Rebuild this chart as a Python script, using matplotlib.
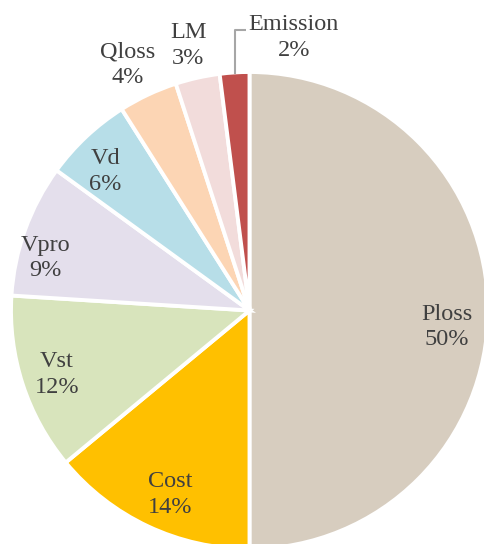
import numpy as np
import matplotlib.pyplot as plt

plt.rcParams["font.family"] = "serif"
plt.rcParams["font.serif"] = ["Liberation Serif", "Times New Roman", "DejaVu Serif"]

# objective weights, clockwise from 12 o'clock
labels = ["Ploss", "Cost", "Vst", "Vpro", "Vd", "Qloss", "LM", "Emission"]
shares = [50, 14, 12, 9, 6, 4, 3, 2]
colors = ["#D7CDBF", "#FFC000", "#D8E4BC", "#E4DFEC", "#B7DEE8",
          "#FCD5B4", "#F2DCDB", "#C0504D"]

# label placement: radial distance (in radii) and angular nudge (deg)
label_dist = [0.83, 0.84, 0.85, 0.885, 0.84, 1.15, 1.14, 1.16]
label_nudge = [-4.8, 1.8, 0.3, 5.4, 2.8, 1.1, 0.4, -12.8]

text_color = "#404040"

fig = plt.figure(figsize=(4.84, 5.44), dpi=100)
ax = fig.add_axes([11 / 484, -5 / 544, 477 / 484, 477 / 544])

wedges, _ = ax.pie(shares, colors=colors, startangle=90, counterclock=False,
                   radius=1.0,
                   wedgeprops=dict(edgecolor="white", linewidth=2.8))

for w, name, val, d, nudge in zip(wedges, labels, shares, label_dist, label_nudge):
    mid = np.deg2rad((w.theta1 + w.theta2) / 2 + nudge)
    ax.text(d * np.cos(mid), d * np.sin(mid), f"{name}\n{val}%",
            ha="center", va="center", fontsize=17.5, color=text_color,
            linespacing=1.3)

# leader line for the smallest slice
em = wedges[-1]
em_mid = np.deg2rad((em.theta1 + em.theta2) / 2)
lx = np.cos(em_mid)
ax.plot([lx, lx, -0.015], [np.sin(em_mid) * 0.995, 1.176, 1.176],
        color="#A6A6A6", linewidth=1.5, solid_capstyle="butt", clip_on=False)

ax.set_xlim(-1, 1)
ax.set_ylim(-1, 1)
ax.set_aspect("equal")
ax.axis("off")

fig.savefig("out.png", dpi=100)
